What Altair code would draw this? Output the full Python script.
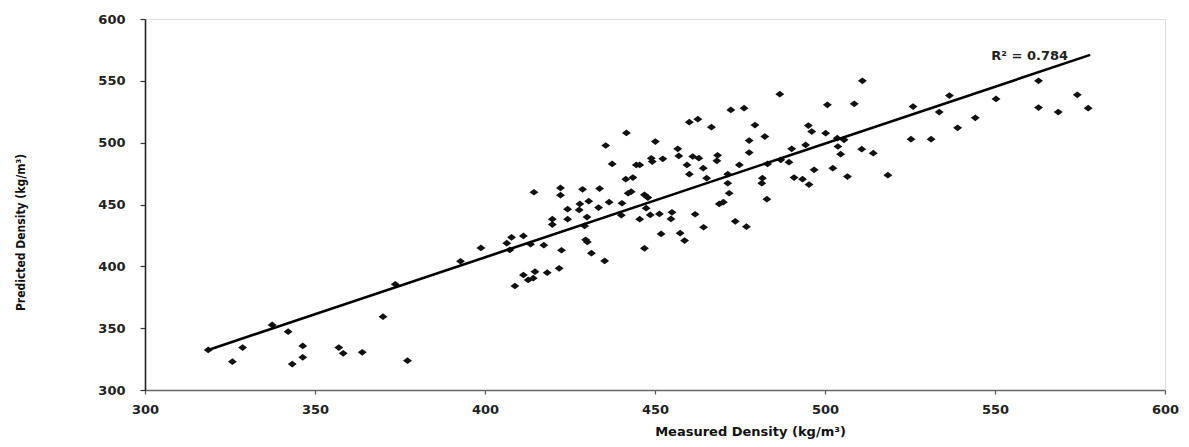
import altair as alt
import pandas as pd

measured = [318.6, 325.7, 328.7, 337.4, 342.1, 346.4, 346.4, 343.3, 357.0, 358.3,
            363.9, 370.0, 377.2, 373.6, 392.8, 398.8, 406.4, 407.8, 407.3, 411.3,
            413.4, 414.4, 417.3, 408.8, 411.3, 412.7, 414.7, 414.2, 418.3, 421.8,
            422.5, 419.8, 419.8, 422.2, 422.2, 424.3, 424.3, 428.7, 427.9, 427.7,
            430.5, 430.0, 429.3, 429.6, 430.1, 431.3, 433.7, 433.4, 435.2, 436.5,
            435.5, 437.4, 441.6, 440.3, 440.1, 441.4, 442.1, 443.5, 444.5, 445.5,
            443.0, 446.9, 447.9, 447.4, 448.6, 451.3, 445.5, 450.1, 448.9, 449.2,
            452.3, 455.0, 454.7, 451.8, 446.9, 457.4, 458.7, 456.7, 457.0, 459.4,
            460.1, 462.6, 461.1, 462.9, 460.1, 461.8, 464.2, 465.2, 464.3, 466.6,
            468.4, 468.2, 468.9, 470.1, 471.4, 471.8, 471.4, 472.3, 476.2, 473.6,
            476.9, 477.7, 477.7, 474.8, 479.4, 482.3, 483.1, 481.6, 481.4, 482.9,
            486.7, 487.0, 489.4, 490.2, 490.9, 493.4, 495.3, 494.3, 495.1, 496.1,
            496.8, 500.2, 500.7, 502.3, 503.6, 505.6, 503.8, 504.6, 506.6, 508.6,
            510.8, 511.0, 514.2, 518.5, 525.9, 525.3, 531.2, 533.6, 536.6, 539.0,
            544.2, 550.3, 562.8, 562.8, 568.6, 574.2, 577.4]
predicted = [332.4, 322.9, 334.3, 352.6, 347.2, 335.6, 326.4, 321.0, 334.3, 329.7,
             330.5, 359.3, 323.7, 385.5, 404.1, 414.9, 418.7, 423.5, 413.3, 424.6,
             417.9, 459.9, 417.1, 384.1, 393.0, 389.0, 395.7, 390.4, 394.9, 398.4,
             413.0, 438.1, 433.8, 463.4, 457.5, 446.2, 438.1, 462.3, 450.5, 445.6,
             452.7, 439.8, 432.7, 421.4, 419.7, 410.6, 462.9, 447.5, 404.4, 451.9,
             497.7, 482.8, 507.9, 451.0, 441.3, 470.5, 459.1, 471.8, 482.0, 482.0,
             460.4, 457.8, 455.6, 447.0, 441.6, 442.4, 438.1, 500.9, 487.4, 484.7,
             486.9, 443.7, 438.3, 426.2, 414.6, 426.8, 420.8, 495.0, 489.3, 482.0,
             516.6, 519.0, 488.8, 487.5, 474.5, 442.1, 479.4, 471.3, 431.6, 512.5,
             489.8, 485.3, 450.5, 451.9, 467.2, 459.1, 474.5, 526.5, 527.9, 436.4,
             432.1, 501.7, 492.0, 482.0, 514.2, 504.9, 482.8, 471.3, 467.2, 454.3,
             539.2, 486.1, 484.2, 495.0, 471.8, 470.5, 466.1, 498.2, 513.8, 509.0,
             478.0, 507.7, 530.6, 479.4, 503.6, 502.3, 496.9, 490.7, 472.6, 531.4,
             494.7, 550.0, 491.5, 473.7, 529.2, 502.8, 502.8, 524.7, 538.1, 512.0,
             520.1, 535.4, 550.0, 528.4, 524.7, 538.7, 527.9]

trend_x = [318.6, 578.0]
trend_y = [332.4, 571.0]

label_x = [571.5]
label_y = [567.0]
label_text = ["R\u00b2 = 0.784"]

x_ticks = [300, 350, 400, 450, 500, 550, 600]
y_ticks = [300, 350, 400, 450, 500, 550, 600]

pts = pd.DataFrame({"Measured": measured, "Predicted": predicted})
trend = pd.DataFrame({"Measured": trend_x, "Predicted": trend_y})
lab = pd.DataFrame({"Measured": label_x, "Predicted": label_y, "t": label_text})

LABEL_FONT = "DejaVu Sans"
NARROW_FONT = "Liberation Sans Narrow, DejaVu Sans Condensed, Liberation Sans, sans-serif"

xscale = alt.Scale(domain=[300, 600], nice=False, zero=False)
yscale = alt.Scale(domain=[300, 600], nice=False, zero=False)

xaxis = alt.Axis(
    values=x_ticks, title="Measured Density (kg/m\u00b3)", grid=False,
    domainColor="#666", domainWidth=1.5, tickColor="#555", tickSize=4, tickWidth=1.2,
    labelFont=LABEL_FONT, labelFontSize=13, labelFontWeight="bold", labelColor="#222",
    labelPadding=9, labelFlush=False,
    titleFont=LABEL_FONT, titleFontSize=13, titleFontWeight="bold", titleColor="#111",
    titleX=605, titleY=45, titleBaseline="alphabetic", titleAlign="center",
)
yaxis = alt.Axis(
    values=y_ticks, title="Predicted Density (kg/m\u00b3)", grid=False,
    domainColor="#222", domainWidth=1.6, tickColor="#333", tickSize=5, tickWidth=1.2,
    labelFont=LABEL_FONT, labelFontSize=13, labelFontWeight="bold", labelColor="#222",
    labelPadding=15, labelFlush=False,
    titleFont=NARROW_FONT, titleFontSize=12, titleFontWeight="bold",
    titleColor="#111", titleX=-125, titleY=213, titleAngle=270,
    titleBaseline="middle", titleAlign="center",
)

points = alt.Chart(pts).mark_point(
    shape="M-1,0L0,-0.75L1,0L0,0.75Z", filled=True, color="#111", opacity=1, size=80
).encode(
    x=alt.X("Measured:Q", scale=xscale, axis=xaxis),
    y=alt.Y("Predicted:Q", scale=yscale, axis=yaxis),
)

line = alt.Chart(trend).mark_line(color="#000", strokeWidth=2.6).encode(
    x=alt.X("Measured:Q", scale=xscale),
    y=alt.Y("Predicted:Q", scale=yscale),
)

text = alt.Chart(lab).mark_text(
    align="right", baseline="alphabetic", font=LABEL_FONT, fontSize=13,
    fontWeight="bold", color="#222"
).encode(
    x=alt.X("Measured:Q", scale=xscale),
    y=alt.Y("Predicted:Q", scale=yscale),
    text="t:N",
)

chart = alt.layer(points, line, text).properties(
    width=1020, height=371,
    autosize=alt.AutoSizeParams(type="none"),
    padding={"left": 137, "top": 11, "right": 14, "bottom": 49},
).configure_view(stroke=None).configure(background="white")

chart.save("out.html", embed_options={"renderer": "svg", "actions": False})
